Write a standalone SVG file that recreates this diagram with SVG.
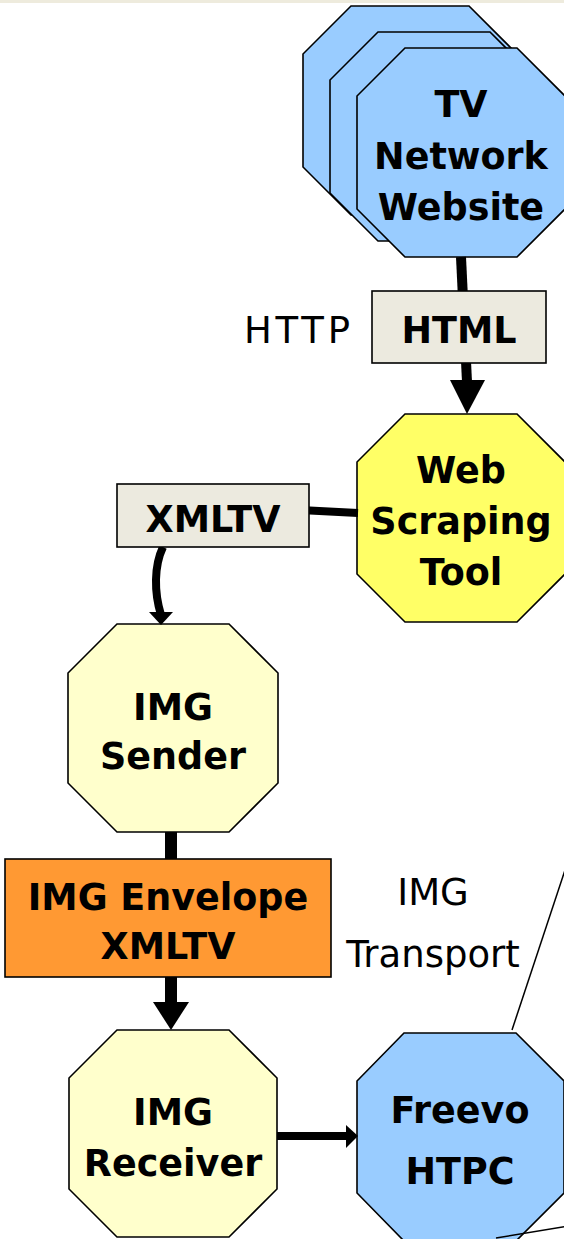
<svg xmlns="http://www.w3.org/2000/svg" width="564" height="1239" viewBox="0 0 564 1239">
<style>
.oct{stroke:#000;stroke-width:1.6;stroke-linejoin:miter}
.blue{fill:#99CCFF}
.yel{fill:#FFFF66}
.lyel{fill:#FFFFCC}
.box{fill:#ECEADF;stroke:#000;stroke-width:1.6}
.org{fill:#FF9933;stroke:#000;stroke-width:1.6}
.b{font-family:"DejaVu Sans",Verdana,sans-serif;font-weight:bold;font-size:36.5px;text-anchor:middle;fill:#000}
.n{font-family:"DejaVu Sans",Verdana,sans-serif;font-size:37px;text-anchor:middle;fill:#000}
.thick{stroke:#000;fill:none}
.thin{stroke:#000;stroke-width:1.5;fill:none}
</style>
<rect x="0" y="0" width="564" height="1239" fill="#fff"/>
<rect x="0" y="0" width="564" height="3" fill="#EEEBDD"/>

<g id="tv-network-website">
<path class="oct blue" d="M351,6 H469 L517,54 V167 L469,215 H351 L303,167 V54 Z"/>
<path class="oct blue" d="M378,32 H490 L538,80 V193 L490,241 H378 L330,193 V80 Z"/>
<path class="oct blue" d="M405,48 H517 L565,96 V209 L517,257 H405 L357,209 V96 Z"/>
<text class="b" x="461" y="117">TV</text>
<text class="b" x="461" y="169">Network</text>
<text class="b" x="461" y="220">Website</text>
</g>

<g id="web-scraping-tool">
<path class="oct yel" d="M405,414 H517 L565,462 V574 L517,622 H405 L357,574 V462 Z"/>
<text class="b" x="461" y="483">Web</text>
<text class="b" x="461" y="534">Scraping</text>
<text class="b" x="461" y="585">Tool</text>
</g>

<g id="img-sender">
<path class="oct lyel" d="M117,624 H229 L278,673 V783 L229,832 H117 L68,783 V673 Z"/>
<text class="b" x="173" y="720">IMG</text>
<text class="b" x="173" y="769">Sender</text>
</g>

<g id="img-receiver">
<path class="oct lyel" d="M117,1030 H229 L277,1078 V1189 L229,1237 H117 L69,1189 V1078 Z"/>
<text class="b" x="173" y="1125">IMG</text>
<text class="b" x="173" y="1176">Receiver</text>
</g>

<g id="freevo-htpc">
<path class="oct blue" d="M404,1033 H516 L564,1081 V1193 L516,1241 H404 L357,1193 V1081 Z"/>
<text class="b" x="460" y="1123">Freevo</text>
<text class="b" x="460" y="1184">HTPC</text>
</g>

<g id="connectors">
<line class="thick" x1="461" y1="257" x2="467" y2="382" stroke-width="10"/>
<polygon points="450,380 485,380 467,414" fill="#000"/>
<line class="thick" x1="358" y1="513" x2="300" y2="510" stroke-width="8"/>
<path class="thick" d="M163,547 C154,566 154,592 161,615" stroke-width="8"/>
<polygon points="149,612 173,612 161,625" fill="#000"/>
<line class="thick" x1="171" y1="832" x2="171" y2="1004" stroke-width="12"/>
<polygon points="153,1002 189,1002 171,1030" fill="#000"/>
<line class="thick" x1="277" y1="1136" x2="349" y2="1136" stroke-width="8"/>
<polygon points="346,1125 346,1148 358,1136" fill="#000"/>
<line class="thin" x1="512" y1="1030" x2="570" y2="855"/>
<line class="thin" x1="496" y1="1238" x2="575" y2="1225"/>
<text class="n" x="433" y="905">IMG</text>
<text class="n" x="433" y="967">Transport</text>
<text class="n" x="297" y="343" textLength="106" lengthAdjust="spacing">HTTP</text>
</g>

<g id="html">
<rect class="box" x="372" y="291" width="174" height="72"/>
<text class="b" x="459" y="343">HTML</text>
</g>

<g id="xmltv">
<rect class="box" x="117" y="484" width="192" height="63"/>
<text class="b" x="213" y="532">XMLTV</text>
</g>

<g id="img-envelope-xmltv">
<rect class="org" x="5" y="859" width="326" height="118"/>
<text class="b" x="168" y="910">IMG Envelope</text>
<text class="b" x="168" y="959">XMLTV</text>
</g>
</svg>
